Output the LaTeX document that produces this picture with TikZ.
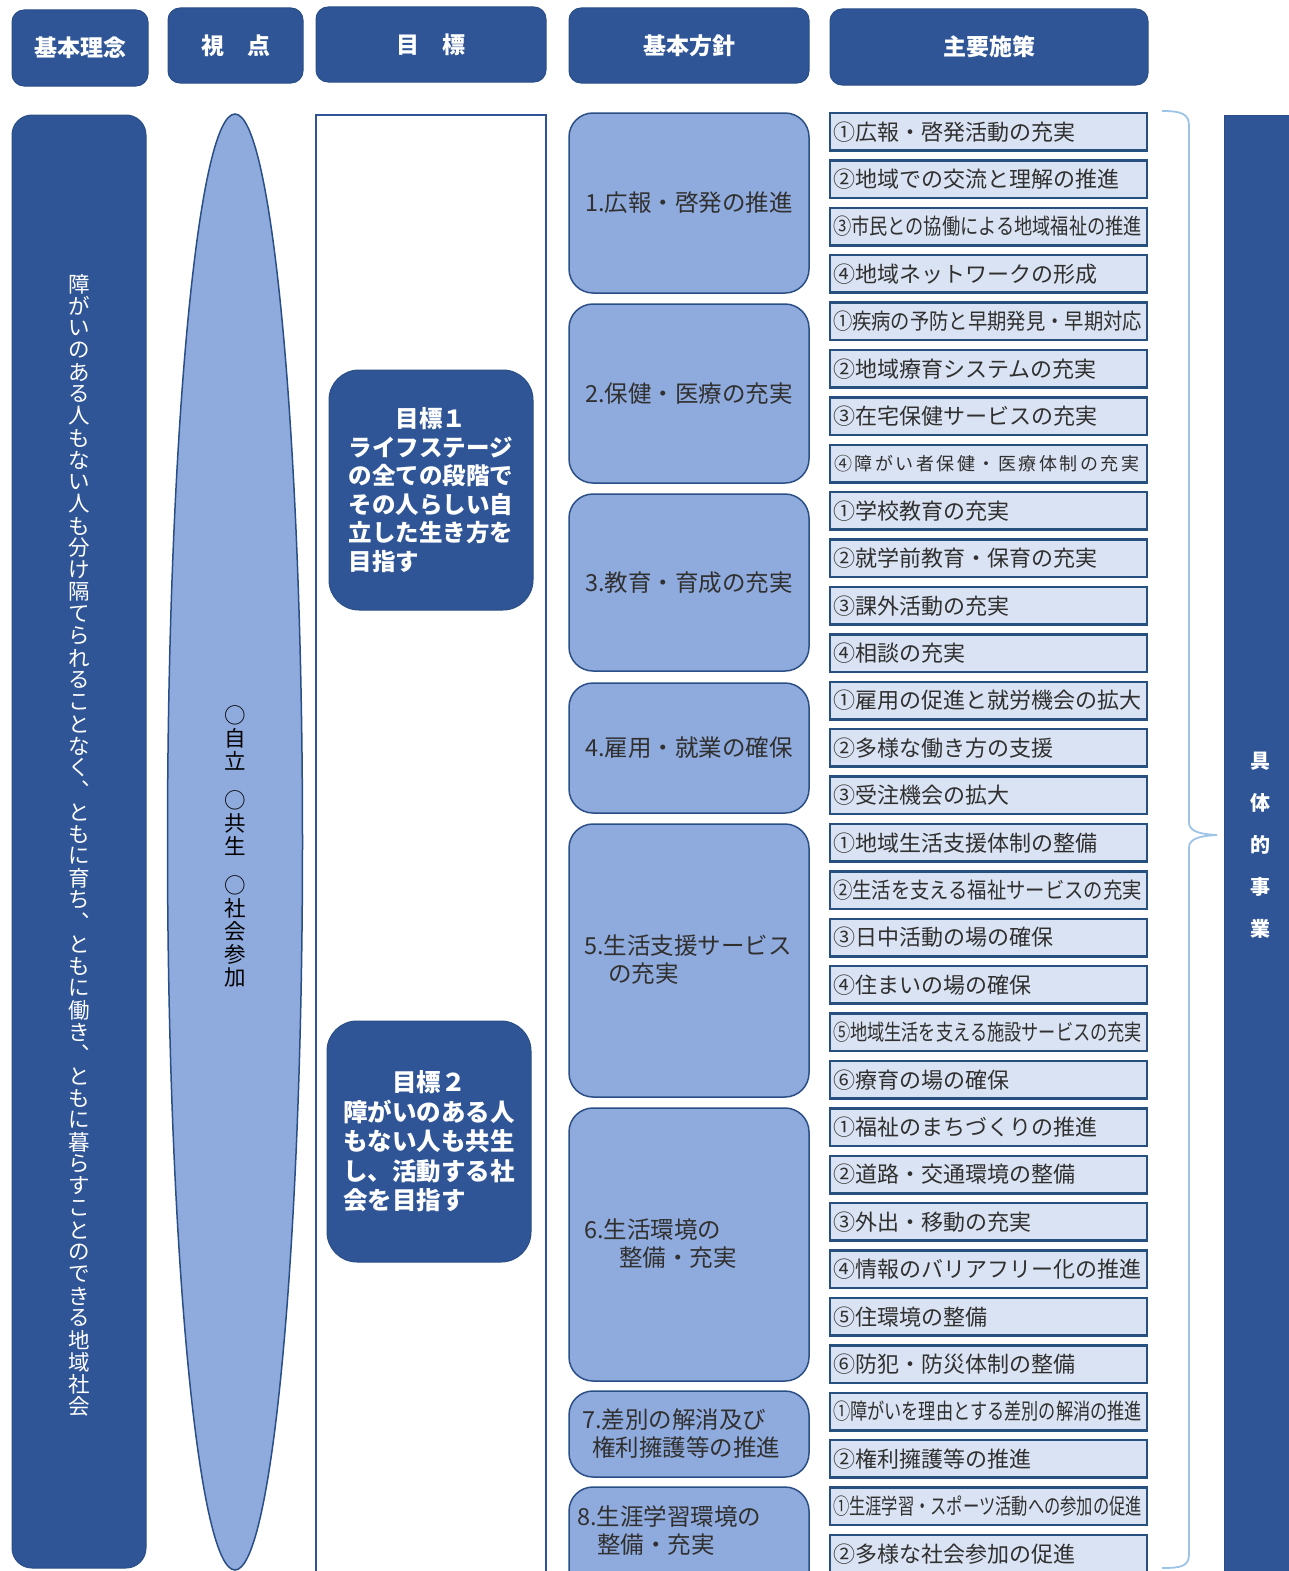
\documentclass[tikz,border=0pt]{standalone}
\usepackage{fontspec}
\setmainfont{Noto Sans CJK JP}
\usetikzlibrary{shapes.geometric}
\definecolor{navy}{HTML}{2F5597}
\definecolor{navyline}{HTML}{2A4F86}
\definecolor{midblue}{HTML}{8FAADC}
\definecolor{itemfill}{HTML}{DAE3F3}
\definecolor{itemline}{HTML}{27507F}
\definecolor{bracecol}{HTML}{9DC3E6}
\definecolor{txtgray}{HTML}{303030}
\ExplSyntaxOn
\NewDocumentCommand\vtext{m m}
  {
    \vbox:n
      {
        \offinterlineskip
        \tl_map_inline:nn {#2}
          {
            \tl_if_eq:nnTF {##1} {|}
              { \skip_vertical:n { #1 * 7 / 10 } }
              { \vbox_to_ht:nn {#1} { \vss \hbox_to_wd:nn {1.4em} { \hss ##1 \hss } \vss } }
          }
      }
  }
\NewDocumentCommand\spaced{m m}
  { \tl_map_inline:nn {#2} { \hbox_to_wd:nn {#1} { \hss ##1 \hss } } }
\NewDocumentCommand\fitw{m}
  {
    \hbox_set:Nn \l_tmpa_box {#1}
    \dim_compare:nNnT { \box_wd:N \l_tmpa_box } > { 309pt }
      {
        \box_scale:Nnn \l_tmpa_box
          { \fp_eval:n { 309 / \dim_to_decimal:n { \box_wd:N \l_tmpa_box } } } { 1 }
      }
    \box_use:N \l_tmpa_box
  }
\ExplSyntaxOff
\begin{document}
\begin{tikzpicture}[x=1pt,y=-1pt,
  hdr/.style={draw=navyline, line width=1pt, fill=navy, rounded corners=12pt,
    text=white, font=\fontsize{23}{23}\selectfont\bfseries, inner sep=0pt},
  policy/.style={draw=navyline, line width=1.5pt, fill=midblue, rounded corners=24pt,
    minimum width=240pt, inner sep=0pt, text=txtgray, align=left,
    font=\fontsize{23.5}{28}\selectfont},
  ptext/.style={anchor=west, inner sep=0pt, text=txtgray, align=left,
    font=\fontsize{23.5}{28}\selectfont},
  goalbox/.style={fill=navy, draw=navyline, line width=1pt, rounded corners=30pt,
    minimum width=204pt, text=white, align=left, inner sep=0pt},
  item/.style={draw=itemline, line width=2.5pt, fill=itemfill, minimum height=37.5pt,
    text width=311pt, inner xsep=3pt, inner ysep=0pt, align=left, text=txtgray,
    font=\fontsize{22}{22}\selectfont}]
\useasboundingbox (0,0) rectangle (1289,1571);
% headers
\node[hdr, minimum width=136pt, minimum height=76pt] (h1) at (80,48) {基本理念};
\node[hdr, minimum width=135pt, minimum height=75pt] (h2) at (235.5,45.5) {視　点};
\node[hdr, minimum width=230pt, minimum height=75pt] (h3) at (431,44.5) {目　標};
\node[hdr, minimum width=240pt, minimum height=75pt] (h4) at (689,45.5) {基本方針};
\node[hdr, minimum width=318pt, minimum height=76pt] (h5) at (989,47) {主要施策};
% left column
\node[draw=navyline, line width=1pt, fill=navy, rounded corners=20pt,
  minimum width=134pt, minimum height=1453pt] (lbox) at (79,841.5) {};
\node[text=white, font=\fontsize{21.5}{21.5}\selectfont, inner sep=0pt] (ltext) at (79,845)
  {\vtext{22pt}{障がいのある人もない人も分け隔てられることなく︑ともに育ち︑ともに働き︑ともに暮らすことのできる地域社会}};
% ellipse
\node[ellipse, draw=navyline, line width=1.5pt, fill=midblue, minimum width=135pt,
  minimum height=1456pt, inner sep=0pt] (ell) at (235,842) {};
\node[text=black, font=\fontsize{21.5}{21.5}\selectfont, inner sep=0pt] (etext) at (235,846)
  {\vtext{23pt}{○自立|○共生|○社会参加}};
% goal column
\node[draw=navy, line width=2pt, fill=white, minimum width=230pt, minimum height=1475pt,
  inner sep=0pt] (gcol) at (431,852.5) {};
\node[goalbox, minimum height=240pt, font=\fontsize{23.5}{28.5}\selectfont\bfseries] (g1) at (431,490)
  {\makebox[7em]{目標１}\\ライフステージ\\の全ての段階で\\その人らしい自\\立した生き方を\\目指す};
\node[goalbox, minimum height=241pt, font=\fontsize{24.5}{29.5}\selectfont\bfseries] (g2) at (429,1141.5)
  {\makebox[7em]{目標２}\\障がいのある人\\もない人も共生\\し、活動する社\\会を目指す};
% policies
\node[policy, minimum height=180pt] (p1) at (689,203) {1.広報・啓発の推進};
\node[policy, minimum height=179pt] (p2) at (689,393.5) {2.保健・医療の充実};
\node[policy, minimum height=177pt] (p3) at (689,582.5) {3.教育・育成の充実};
\node[policy, minimum height=130pt] (p4) at (689,748) {4.雇用・就業の確保};
\node[policy, minimum height=273pt] (p5) at (689,960.5) {};
\node[policy, minimum height=273pt] (p6) at (689,1244.5) {};
\node[policy, minimum height=86pt] (p7) at (689,1434) {};
\node[policy, minimum height=111pt] (p8) at (689,1542.5) {};
\node[ptext] (p5t) at (584,960) {5.生活支援サービス\\\hspace*{24pt}の充実};
\node[ptext] (p6t) at (584,1244) {6.生活環境の\\\hspace*{35pt}整備・充実};
\node[ptext] (p7t) at (582,1434) {7.差別の解消及び\\\hspace*{10pt}権利擁護等の推進};
\node[ptext] (p8t) at (577,1531) {8.生涯学習環境の\\\hspace*{20pt}整備・充実};
% items
\foreach \t [count=\i from 0] in {①広報・啓発活動の充実,
  ②地域での交流と理解の推進,
  ③市民との協働による地域福祉の推進,
  ④地域ネットワークの形成,
  ①疾病の予防と早期発見・早期対応,
  ②地域療育システムの充実,
  ③在宅保健サービスの充実,
  {\fontsize{18}{18}\selectfont\spaced{20.5pt}{④障がい者保健・医療体制の充実}},
  ①学校教育の充実,
  ②就学前教育・保育の充実,
  ③課外活動の充実,
  ④相談の充実,
  ①雇用の促進と就労機会の拡大,
  ②多様な働き方の支援,
  ③受注機会の拡大,
  ①地域生活支援体制の整備,
  ②生活を支える福祉サービスの充実,
  ③日中活動の場の確保,
  ④住まいの場の確保,
  ⑤地域生活を支える施設サービスの充実,
  ⑥療育の場の確保,
  ①福祉のまちづくりの推進,
  ②道路・交通環境の整備,
  ③外出・移動の充実,
  ④情報のバリアフリー化の推進,
  ⑤住環境の整備,
  ⑥防犯・防災体制の整備,
  ①障がいを理由とする差別の解消の推進,
  ②権利擁護等の推進,
  ①生涯学習・スポーツ活動への参加の促進,
  ②多様な社会参加の促進}
  {\node[item] (it\i) at (988.5,{131.75+47.4*\i}) {\fitw{\t}};}
% brace
\draw[bracecol, line width=1.8pt]
  (1162,111) .. controls (1182,111) and (1189,114) .. (1189,126)
  -- (1189,822) .. controls (1189,830) and (1196,834) .. (1217,835)
  .. controls (1196,836) and (1189,840) .. (1189,848)
  -- (1189,1554) .. controls (1189,1566) and (1182,1568) .. (1162,1568);
% right column
\node[fill=navy, draw=navyline, line width=1pt, minimum width=70pt, minimum height=1470pt,
  inner sep=0pt] (rbox) at (1259,850) {};
\node[text=white, font=\fontsize{20}{20}\selectfont\bfseries, inner sep=0pt] (rtext) at (1260,845)
  {\vtext{42pt}{具体的事業}};
\end{tikzpicture}
\end{document}
